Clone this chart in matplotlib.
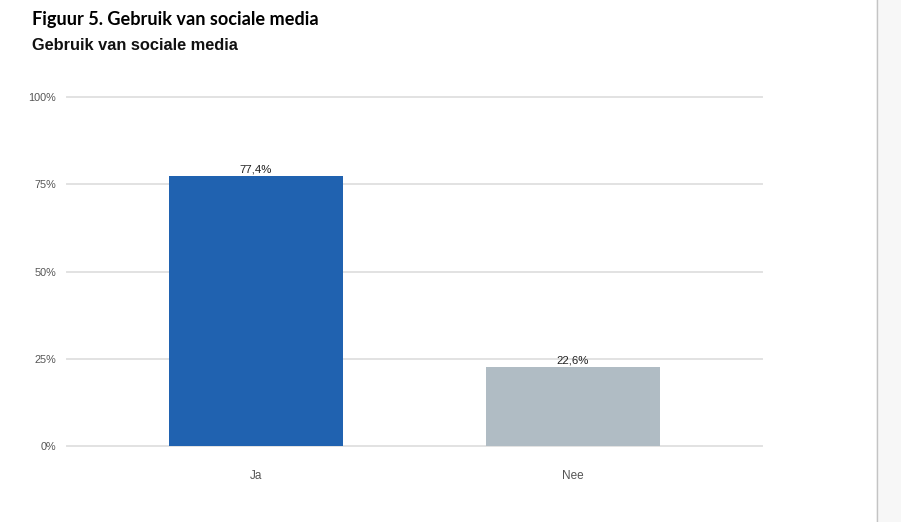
import matplotlib
matplotlib.use("Agg")
import matplotlib.pyplot as plt
from matplotlib.patches import Rectangle
from matplotlib.lines import Line2D

categorieen = ["Ja", "Nee"]
percentages = [77.4, 22.6]
labels = ["77,4%", "22,6%"]
kleuren = ["#2062B0", "#B0BCC4"]
yticks = [0, 25, 50, 75, 100]
ytick_labels = ["0%", "25%", "50%", "75%", "100%"]

W, H = 901, 522
fig = plt.figure(figsize=(W / 100, H / 100), dpi=100)
ax = fig.add_axes([67 / W, (H - 446) / H, (762 - 67) / W, (446 - 97) / H])

x = range(len(categorieen))
ax.bar(x, percentages, width=0.55, color=kleuren, zorder=3)
for xi, v, lab in zip(x, percentages, labels):
    ax.text(xi, v + 0.5, lab, ha="center", va="bottom", fontsize=8.2,
            color="#222222", family="Liberation Sans")

# Ja-midden op x=256, Nee-midden op x=573 (317 px per categorie)
ax.set_xlim(-(256 - 67) / 317, 1 + (762 - 573) / 317)
ax.set_ylim(0, 100)
ax.set_yticks(yticks)
ax.set_yticklabels(ytick_labels)
ax.set_xticks(list(x))
ax.set_xticklabels(categorieen)
ax.grid(axis="y", color="#E2E2E2", lw=1.4, zorder=0)
for gl in ax.get_ygridlines():
    gl.set_clip_on(False)
for s in ax.spines.values():
    s.set_visible(False)
ax.tick_params(axis="both", length=0, labelcolor="#555555")
ax.tick_params(axis="y", pad=8, labelsize=7.8)
ax.tick_params(axis="x", pad=17, labelsize=8.5)
for t in ax.get_xticklabels() + ax.get_yticklabels():
    t.set_family("Liberation Sans")

fig.text(32 / W, 1 - 19 / H, "Figuur 5. Gebruik van sociale media",
         fontsize=13.1, fontweight="bold", family="Lato", va="center",
         color="#000000")
fig.text(32 / W, 1 - 46 / H, "Gebruik van sociale media",
         fontsize=11.8, fontweight="bold", family="Liberation Sans",
         va="center", color="#111111")

# schuifbalk rechts
fig.patches.append(Rectangle((876 / W, 0), 1 - 876 / W, 1, transform=fig.transFigure,
                             facecolor="#F7F7F7", edgecolor="none"))
fig.lines.append(Line2D([876.5 / W, 876.5 / W], [0, 1], transform=fig.transFigure,
                        color="#C4C4C4", lw=1))

fig.savefig("out.png", dpi=100)
